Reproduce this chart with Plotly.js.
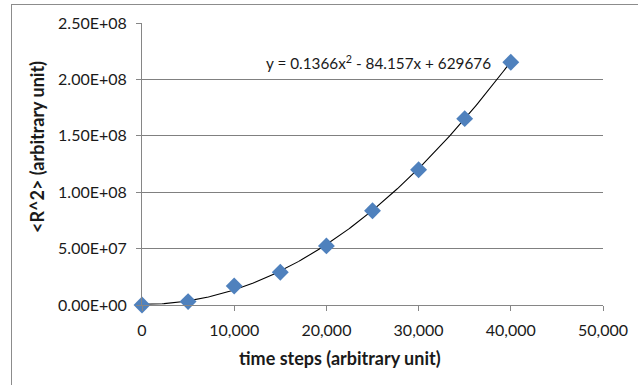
<!DOCTYPE html>
<html>
<head>
<meta charset="utf-8">
<script src="https://cdn.plot.ly/plotly-3.0.1.min.js"></script>
<style>
  html, body { margin: 0; padding: 0; background: #fff; }
  #wrap { position: relative; width: 638px; height: 385px; overflow: hidden; }
  #chart { position: absolute; left: 0; top: 0; width: 638px; height: 385px; }
  #frame { position: absolute; left: 11px; top: 4px; width: 700px; height: 450px;
           border-left: 1px solid #8c8c8c; border-top: 1px solid #8c8c8c; pointer-events: none; }
</style>
</head>
<body>
<div id="wrap">
  <div id="chart"></div>
  <div id="frame"></div>
</div>
<script>
// Mean squared displacement versus time steps
const steps = [0, 5000, 10000, 15000, 20000, 25000, 30000, 35000, 40000];
const meanR2 = [0, 3.0e6, 1.69e7, 2.9e7, 5.24e7, 8.35e7, 1.199e8, 1.652e8, 2.152e8];

// Quadratic trendline coefficients (a x^2 + b x + c)
const fitCoef = [0.1366, -84.157, 629676];

// Axis ticks
const yTickVals = [0, 5e7, 1e8, 1.5e8, 2e8, 2.5e8];
const yTickText = ['0.00E+00', '5.00E+07', '1.00E+08', '1.50E+08', '2.00E+08', '2.50E+08'];
const xTickVals = [0, 10000, 20000, 30000, 40000, 50000];

// Trendline sampled along the fitted range
const fitX = [];
const fitY = [];
for (let i = 0; i <= 200; i++) {
  const x = steps[steps.length - 1] * i / 200;
  fitX.push(x);
  fitY.push(fitCoef[0] * x * x + fitCoef[1] * x + fitCoef[2]);
}

const font = 'Lato, "Open Sans", sans-serif';
const ink = '#1a1a1a';

const traces = [
  {
    x: fitX, y: fitY, type: 'scatter', mode: 'lines',
    line: { color: '#000', width: 1.1 },
    hoverinfo: 'skip', showlegend: false, cliponaxis: false
  },
  {
    x: steps, y: meanR2, type: 'scatter', mode: 'markers',
    marker: { symbol: 'diamond', size: 13, color: '#4f81bd', line: { width: 0 } },
    showlegend: false, cliponaxis: false
  }
];

const layout = {
  width: 638, height: 385,
  margin: { l: 142, r: 35, t: 23, b: 80 },
  paper_bgcolor: 'rgba(0,0,0,0)',
  plot_bgcolor: '#fff',
  font: { family: font, size: 16, color: ink },
  showlegend: false,
  xaxis: {
    range: [0, 50000],
    tickvals: xTickVals,
    tickformat: ',d',
    showgrid: false,
    zeroline: false,
    showline: true, linecolor: '#868686', linewidth: 1,
    ticks: 'outside', ticklen: 5, tickcolor: '#868686',
    ticklabelstandoff: 6,
    tickfont: { family: font, size: 16, color: ink }
  },
  yaxis: {
    range: [0, 2.5e8],
    tickvals: yTickVals,
    ticktext: yTickText,
    showgrid: true, gridcolor: '#808080', gridwidth: 1,
    zeroline: false,
    showline: true, linecolor: '#868686', linewidth: 1,
    ticks: 'outside', ticklen: 5, tickcolor: '#868686',
    ticklabelstandoff: 6,
    tickfont: { family: font, size: 16, color: ink }
  },
  annotations: [
    {
      text: 'time steps (arbitrary unit)',
      xref: 'paper', yref: 'paper', x: (340 - 142) / 461, y: -(358 - 305) / 282,
      xanchor: 'center', yanchor: 'middle', showarrow: false,
      font: { family: font, size: 18, color: ink, weight: 'bold' }
    },
    {
      text: '&lt;R^2&gt; (arbitrary unit)',
      xref: 'paper', yref: 'paper', x: -(142 - 37) / 461, y: (305 - 147) / 282,
      xanchor: 'center', yanchor: 'middle', textangle: -90, showarrow: false,
      font: { family: font, size: 18, color: ink, weight: 'bold' }
    },
    {
      text: 'y = ' + fitCoef[0] + 'x<sup>2</sup> - ' + Math.abs(fitCoef[1]) + 'x + ' + fitCoef[2],
      xref: 'paper', yref: 'paper', x: (264 - 142) / 461, y: (305 - 62) / 282,
      xanchor: 'left', yanchor: 'middle', showarrow: false,
      font: { family: font, size: 15.3, color: ink }
    }
  ]
};

Plotly.newPlot('chart', traces, layout, { displayModeBar: false, staticPlot: true });
</script>
</body>
</html>
